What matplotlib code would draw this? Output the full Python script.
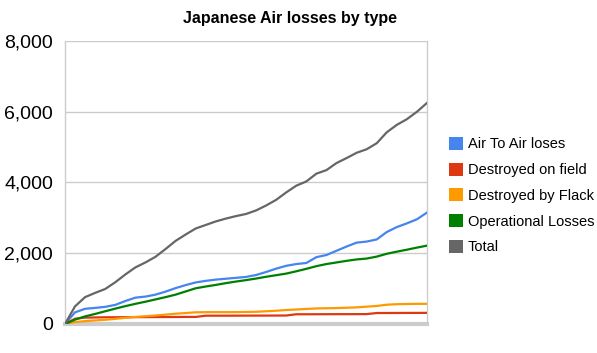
import matplotlib
matplotlib.use("Agg")
import matplotlib.pyplot as plt
from matplotlib.patches import Patch
from matplotlib.ticker import FuncFormatter

plt.rcParams['font.family'] = ['Liberation Sans', 'DejaVu Sans']

# cumulative losses, sampled at equal steps along the (unlabelled) x axis
step = list(range(37))

air_to_air = [0, 330, 430, 455, 485, 540, 650, 745, 775, 830, 915, 1015, 1100, 1175,
              1220, 1255, 1280, 1305, 1330, 1385, 1470, 1565, 1645, 1695, 1725, 1890,
              1950, 2070, 2190, 2300, 2330, 2390, 2600, 2740, 2845, 2960, 3150]
on_field = [0, 150, 180, 185, 190, 190, 192, 194, 195, 196, 197, 198, 200, 200,
            235, 235, 235, 236, 237, 238, 238, 239, 240, 275, 275, 276, 277, 278,
            278, 279, 280, 310, 311, 312, 313, 314, 315]
by_flack = [0, 55, 80, 100, 120, 145, 175, 200, 220, 240, 265, 290, 310, 330,
            335, 335, 335, 336, 340, 345, 360, 375, 395, 410, 425, 440, 445, 450,
            460, 470, 490, 510, 545, 560, 565, 570, 570]
operational = [0, 125, 215, 285, 360, 435, 505, 570, 630, 695, 760, 830, 920, 1010,
               1060, 1105, 1155, 1200, 1240, 1285, 1335, 1380, 1425, 1490, 1560, 1635,
               1695, 1740, 1785, 1825, 1850, 1905, 1985, 2045, 2100, 2160, 2215]
total = [0, 500, 760, 880, 990, 1180, 1400, 1600, 1740, 1900, 2120, 2350, 2530, 2700,
         2800, 2900, 2980, 3050, 3110, 3210, 3350, 3510, 3720, 3910, 4030, 4250, 4350,
         4550, 4690, 4840, 4940, 5110, 5420, 5630, 5790, 6000, 6250]

labels = ['Air To Air loses', 'Destroyed on field', 'Destroyed by Flack',
          'Operational Losses', 'Total']
colors = ['#4684EE', '#DC3912', '#FF9900', '#008000', '#666666']
series = [air_to_air, on_field, by_flack, operational, total]

fig = plt.figure(figsize=(5.97, 3.53), dpi=100)
ax = fig.add_axes([65 / 597, 29 / 353, 362 / 597, 283 / 353])

for s, c in zip(series, colors):
    ax.plot(step, s, color=c, linewidth=1.6, solid_joinstyle='round', zorder=3)

ax.set_xlim(0, 36)
ax.set_ylim(0, 8000)
ax.set_yticks([0, 2000, 4000, 6000, 8000])
ax.yaxis.set_major_formatter(FuncFormatter(lambda v, p: f'{int(v):,}'))
ax.set_xticks([])
ax.tick_params(axis='y', length=0, pad=8.5, labelsize=14)
ax.grid(axis='y', color='#CCCCCC', linewidth=1)

for side in ['left', 'right', 'top']:
    ax.spines[side].set_color('#CCCCCC')
    ax.spines[side].set_linewidth(1)
ax.spines['top'].set_visible(False)
ax.spines['bottom'].set_color('#CCCCCC')
ax.spines['bottom'].set_linewidth(3)

fig.text(290 / 597, 334 / 353, 'Japanese Air losses by type', ha='center', va='center',
         fontsize=11.5, fontweight='bold')

handles = [Patch(facecolor=c, edgecolor='none') for c in colors]
fig.legend(handles, labels, loc='upper left', bbox_to_anchor=(443 / 597, 222 / 353),
           frameon=False, fontsize=10.5, handlelength=1.0, handleheight=1.0,
           handletextpad=0.3, labelspacing=0.77, borderaxespad=0)

fig.savefig('out.png', dpi=100)
